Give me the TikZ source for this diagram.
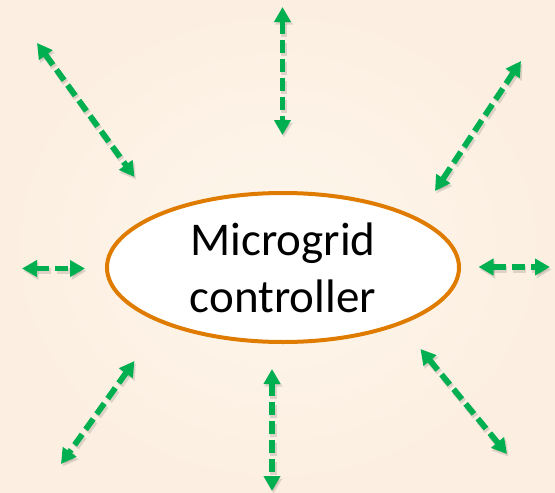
\documentclass[tikz,border=0pt]{standalone}
\usepackage{fontspec}
\setmainfont{Carlito}
\usetikzlibrary{arrows.meta,shapes.geometric}
\definecolor{bgin}{HTML}{FEF6EC}
\definecolor{bgout}{HTML}{FCEFE1}
\definecolor{arrgreen}{HTML}{00B050}
\definecolor{ellorange}{HTML}{DF7C00}
\tikzset{
  link/.style={draw=arrgreen, line width=5.8pt, dash pattern=on 13pt off 6pt,
    {Triangle[length=15pt,width=16pt]}-{Triangle[length=15pt,width=16pt]}},
  linkshadow/.style={draw=black, opacity=0.12, line width=6.5pt, dash pattern=on 13pt off 6pt,
    {Triangle[length=15pt,width=17pt]}-{Triangle[length=15pt,width=17pt]}},
  ctrl/.style={ellipse, draw=ellorange, line width=4pt, fill=white,
    minimum width=352pt, minimum height=149pt, inner sep=0pt,
    align=center, font=\fontsize{47}{57}\selectfont}
}
\begin{document}
\begin{tikzpicture}[x=1pt,y=-1pt]
\shade[inner color=bgin, outer color=bgout] (0,0) rectangle (555,493);
\useasboundingbox (0,0) rectangle (555,493);
\node[ctrl] (mc) at (283,267.5) {Microgrid\\controller};
% arrow end points
\coordinate (a1) at (37,43);   \coordinate (b1) at (134.5,177);
\coordinate (a2) at (282.5,7); \coordinate (b2) at (282.5,135);
\coordinate (a3) at (521,61);  \coordinate (b3) at (435,191);
\coordinate (a4) at (22,268.5);  \coordinate (b4) at (85,268.5);
\coordinate (a5) at (478.5,267); \coordinate (b5) at (550,267);
\coordinate (a6) at (134.5,361); \coordinate (b6) at (61,464);
\coordinate (a7) at (272,369);  \coordinate (b7) at (272,491);
\coordinate (a8) at (420.5,349); \coordinate (b8) at (507,454);
\foreach \i in {1,...,8}{
  \draw[linkshadow, transform canvas={shift={(1.5pt,-2.5pt)}}] (a\i) -- (b\i);
}
\foreach \i in {1,...,8}{
  \draw[link] (a\i) -- (b\i);
}
\end{tikzpicture}
\end{document}
